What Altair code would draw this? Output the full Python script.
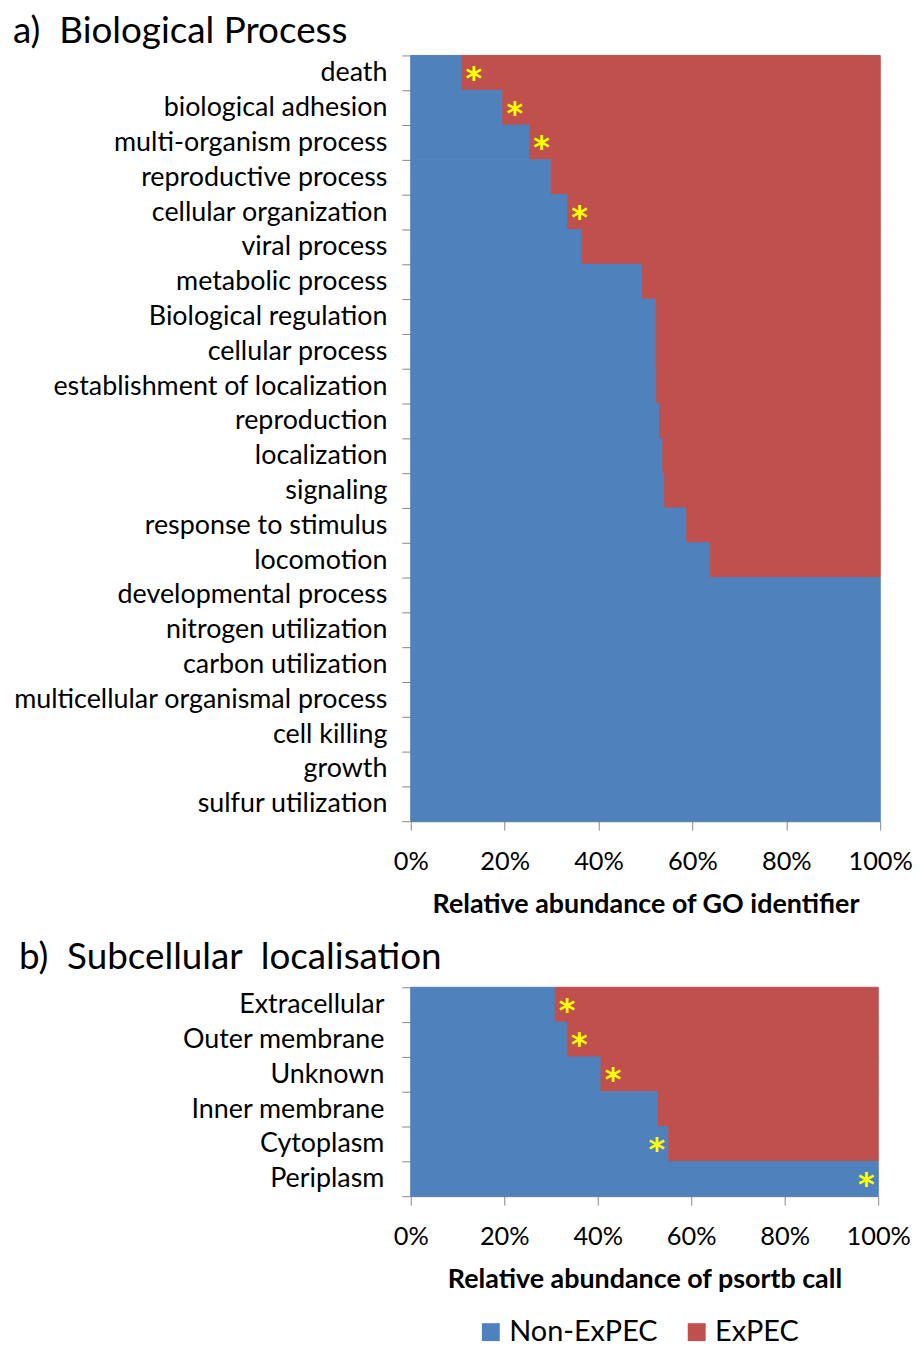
import altair as alt
import pandas as pd

# ---------------- data ----------------
groups = ["Non-ExPEC", "ExPEC"]
group_colors = ["#4F81BD", "#C0504D"]
x_ticks = [0, 20, 40, 60, 80, 100]

bp_categories = [
    "death", "biological adhesion", "multi-organism process", "reproductive process",
    "cellular organization", "viral process", "metabolic process", "Biological regulation",
    "cellular process", "establishment of localization", "reproduction", "localization",
    "signaling", "response to stimulus", "locomotion", "developmental process",
    "nitrogen utilization", "carbon utilization", "multicellular organismal process",
    "cell killing", "growth", "sulfur utilization",
]
bp_nonexpec = [10.9, 19.6, 25.3, 29.9, 33.4, 36.5, 49.4, 52.3, 52.3, 52.4, 53.0, 53.7,
               54.1, 58.8, 63.8, 100, 100, 100, 100, 100, 100, 100]
bp_star = ["right", "right", "right", "", "right", "", "", "", "", "", "", "",
           "", "", "", "", "", "", "", "", "", ""]

sc_categories = ["Extracellular", "Outer membrane", "Unknown", "Inner membrane",
                 "Cytoplasm", "Periplasm"]
sc_nonexpec = [30.9, 33.5, 40.7, 53.0, 55.2, 100]
sc_star = ["right", "right", "right", "", "left", "left"]

FONT = "Lato"


def long_df(cats, nonexpec):
    rows = []
    for c, v in zip(cats, nonexpec):
        rows.append({"category": c, "group": groups[0], "value": v, "order": 0})
        if v < 100:
            rows.append({"category": c, "group": groups[1], "value": round(100 - v, 1), "order": 1})
    return pd.DataFrame(rows)


def panel(cats, nonexpec, stars, title, title_dx, title_offset, xtitle, width, height, label_pad):
    y_enc = alt.Y(
        "category:N", sort=cats,
        scale=alt.Scale(paddingInner=0, paddingOuter=0),
        axis=alt.Axis(
            title=None, labelFontSize=27, labelFont=FONT, labelColor="black",
            tickBand="extent", tickSize=9, tickColor="#868686", domainColor="#868686",
            labelPadding=label_pad, minExtent=404, maxExtent=404, labelLimit=400,
        ),
    )
    legend = alt.Legend(
        orient="none", legendX=66, legendY=1269, direction="horizontal", title=None,
        symbolType="square", symbolSize=324, symbolStrokeWidth=0, labelFontSize=29,
        labelFont=FONT, labelColor="black", labelOffset=4, columnPadding=24,
    )
    bars = alt.Chart(long_df(cats, nonexpec)).mark_bar(strokeWidth=1).encode(
        y=y_enc,
        x=alt.X(
            "value:Q", stack="zero",
            scale=alt.Scale(domain=[0, 100], nice=False),
            axis=alt.Axis(
                values=x_ticks, labelExpr="datum.value + '%'", title=xtitle, grid=False,
                labelFontSize=25.5, labelFont=FONT, labelColor="black", tickSize=9,
                tickColor="#868686", domainColor="#868686", labelPadding=20,
                titleFontSize=27, titleFont=FONT, titleFontWeight="bold",
                titleColor="black", titlePadding=16, labelFlush=False,
            ),
        ),
        color=alt.Color("group:N", scale=alt.Scale(domain=groups, range=group_colors),
                        legend=legend),
        stroke=alt.Stroke("group:N", scale=alt.Scale(domain=groups, range=group_colors),
                          legend=None),
        order=alt.Order("order:Q"),
    )
    sd = pd.DataFrame({"category": cats, "value": nonexpec, "star": stars})
    star_base = alt.Chart(sd)
    right = star_base.transform_filter("datum.star == 'right'").mark_text(
        text="*", dx=12, dy=6, fontSize=32, font="DejaVu Sans", fontWeight="bold",
        color="#FFFF00", baseline="middle", align="center",
    ).encode(x="value:Q", y=alt.Y("category:N", sort=cats))
    left = star_base.transform_filter("datum.star == 'left'").mark_text(
        text="*", dx=-12, dy=6, fontSize=32, font="DejaVu Sans", fontWeight="bold",
        color="#FFFF00", baseline="middle", align="center",
    ).encode(x="value:Q", y=alt.Y("category:N", sort=cats))
    return alt.layer(bars, right, left).properties(
        width=width, height=height,
        title=alt.TitleParams(
            text=title, anchor="start", frame="bounds", fontSize=37, font=FONT,
            fontWeight="normal", color="black", dx=title_dx, offset=title_offset,
        ),
    )


pa = panel(bp_categories, bp_nonexpec, bp_star, "a)\u00a0 Biological Process", 4, -9,
           "Relative abundance of GO identifier", 472, 22 * 35, 15)
pb = panel(sc_categories, sc_nonexpec, sc_star, "b)\u00a0 Subcellular\u00a0 localisation", 10, -4,
           "Relative abundance of psortb call", 470, 6 * 35, 18)

chart = alt.vconcat(pa, pb, spacing=21).properties(padding=0).configure_view(
    stroke=None
).configure(font=FONT)

chart.save("out.html", embed_options={"renderer": "svg", "actions": False})
